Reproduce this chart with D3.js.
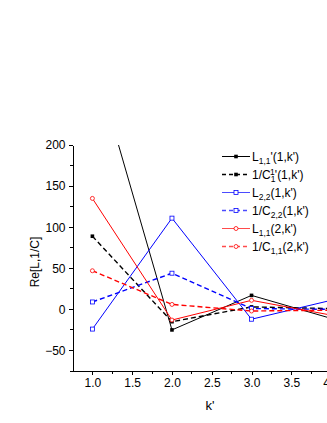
<!DOCTYPE html>
<meta charset="utf-8">
<style>
body { margin: 0; background: #fff; }
svg { font-family: "Liberation Sans", Arial, sans-serif; }
.axis path, .axis line { stroke: #000; stroke-width: 1; fill: none; shape-rendering: crispEdges; }
.axis text { font-size: 12px; fill: #000; }
</style>
<body>
<script src="https://d3js.org/d3.v7.min.js"></script>
<script>
// k' positions
var kValues = [1, 2, 3, 4];

// series
var L11p_1 = [310, -25, 17, -11];   // L1,1'(1,k')
var C1p_1  = [89, -15, 3, 1];       // 1/C1^1'(1,k')
var L22_1  = [-24, 111, -12, 11];   // L2,2(1,k')
var C22_1  = [9, 44, 1, 0];         // 1/C2,2(1,k')
var L11_2  = [135, -13, 11, -7];    // L1,1(2,k')
var C11_2  = [47, 6, -2, -1];       // 1/C1,1(2,k')

var xTicks = [1.0, 1.5, 2.0, 2.5, 3.0, 3.5, 4.0];
var yTicks = [-50, 0, 50, 100, 150, 200];

var W = 327, H = 423;
var plotLeft = 72.5, plotRight = 351, plotTop = 145, plotBottom = 371;

var svg = d3.select("body").append("svg")
    .attr("width", W)
    .attr("height", H);

var x = d3.scaleLinear().domain([0.75, 4.25]).range([plotLeft, plotRight]);
var y = d3.scaleLinear().domain([-75, 200]).range([plotBottom, plotTop]);

svg.append("clipPath").attr("id", "plot")
  .append("rect")
    .attr("x", plotLeft).attr("y", plotTop)
    .attr("width", plotRight - plotLeft).attr("height", plotBottom - plotTop);

// minor ticks
var xMinor = [1.25, 1.75, 2.25, 2.75, 3.25, 3.75, 4.25];
var yMinor = [-75, -25, 25, 75, 125, 175];

var xAxis = svg.append("g").attr("class", "axis")
    .attr("transform", "translate(0," + plotBottom + ")")
    .call(d3.axisBottom(x).tickValues(xTicks).tickFormat(d3.format(".1f"))
        .tickSize(4).tickSizeOuter(0).tickPadding(3));
xAxis.selectAll(".minor").data(xMinor).enter().append("line")
    .attr("class", "minor")
    .attr("x1", function(d){ return x(d); }).attr("x2", function(d){ return x(d); })
    .attr("y1", 0).attr("y2", 2.5);

var yAxis = svg.append("g").attr("class", "axis")
    .attr("transform", "translate(" + plotLeft + ",0)")
    .call(d3.axisLeft(y).tickValues(yTicks).tickSize(4).tickSizeOuter(0).tickPadding(3));
yAxis.selectAll(".minor").data(yMinor).enter().append("line")
    .attr("class", "minor")
    .attr("y1", function(d){ return y(d); }).attr("y2", function(d){ return y(d); })
    .attr("x1", 0).attr("x2", -2.5);

// axis titles
svg.append("text")
    .attr("transform", "translate(39," + 262 + ") rotate(-90)")
    .attr("text-anchor", "middle")
    .attr("font-size", "12px")
    .text("Re[L,1/C]");

svg.append("text")
    .attr("x", 210).attr("y", 410)
    .attr("text-anchor", "middle")
    .attr("font-size", "13px")
    .text("k'");

var series = [
  { values: L11p_1, color: "#000", dash: null, marker: "fsquare" },
  { values: C1p_1,  color: "#000", dash: "5,3", marker: "fsquare" },
  { values: L22_1,  color: "#0000ff", dash: null, marker: "osquare" },
  { values: C22_1,  color: "#0000ff", dash: "5,3", marker: "osquare" },
  { values: L11_2,  color: "#ff0000", dash: null, marker: "circle" },
  { values: C11_2,  color: "#ff0000", dash: "5,3", marker: "circle" }
];

var line = d3.line()
    .x(function(d, i){ return x(kValues[i]); })
    .y(function(d){ return y(d); });

var plot = svg.append("g").attr("clip-path", "url(#plot)");

function drawMarker(g, type, color, cx, cy) {
  if (type === "circle") {
    g.append("circle").attr("cx", cx).attr("cy", cy).attr("r", 2)
      .attr("fill", "#fff").attr("stroke", color).attr("stroke-width", 0.8);
  } else if (type === "osquare") {
    g.append("rect").attr("x", cx - 2).attr("y", cy - 2).attr("width", 4).attr("height", 4)
      .attr("fill", "#fff").attr("stroke", color).attr("stroke-width", 0.8);
  } else {
    g.append("rect").attr("x", cx - 1.8).attr("y", cy - 1.8).attr("width", 3.6).attr("height", 3.6)
      .attr("fill", color);
  }
}

series.forEach(function(s) {
  plot.append("path")
    .datum(s.values)
    .attr("d", line)
    .attr("fill", "none")
    .attr("stroke", s.color)
    .attr("stroke-width", s.dash ? 1.4 : 1)
    .attr("stroke-dasharray", s.dash);
});
series.forEach(function(s) {
  s.values.forEach(function(v, i) {
    drawMarker(plot, s.marker, s.color, x(kValues[i]), y(v));
  });
});

// legend
var legendRows = [
  [["L", 0], ["1,1", 1], ["'", 0], ["(1,k')", 0]],
  [["1/C", 0], ["1", 1], ["1", -1], ["'", 0], ["(1,k')", 0]],
  [["L", 0], ["2,2", 1], ["(1,k')", 0]],
  [["1/C", 0], ["2,2", 1], ["(1,k')", 0]],
  [["L", 0], ["1,1", 1], ["(2,k')", 0]],
  [["1/C", 0], ["1,1", 1], ["(2,k')", 0]]
];

var legend = svg.append("g");
series.forEach(function(s, i) {
  var ly = 156.5 + i * 18;
  var row = legend.append("g");
  row.append("line")
    .attr("x1", 222).attr("x2", 250).attr("y1", ly).attr("y2", ly)
    .attr("stroke", s.color)
    .attr("stroke-width", s.dash ? 1.4 : 1)
    .attr("stroke-dasharray", s.dash ? "4,3" : null)
    .attr("opacity", s.color === "#000" ? 1 : 0.7);
  drawMarker(row, s.marker, s.color, 236, ly);

  var t = row.append("text")
    .attr("x", 252).attr("y", ly + 4)
    .attr("font-size", "12px");
  var level = 0;
  legendRows[i].forEach(function(p) {
    var dy = 0, size = "12px";
    if (p[1] === 1) { dy = 3 - level; level = 3; size = "8.5px"; }
    else if (p[1] === -1) { dy = -4 - level; level = -4; size = "8.5px"; }
    else { dy = -level; level = 0; }
    var ts = t.append("tspan").attr("dy", dy).attr("font-size", size).text(p[0]);
    // stack superscript over preceding subscript
    if (p[1] === -1) ts.attr("dx", -4.7);
  });
});
</script>
</body>
